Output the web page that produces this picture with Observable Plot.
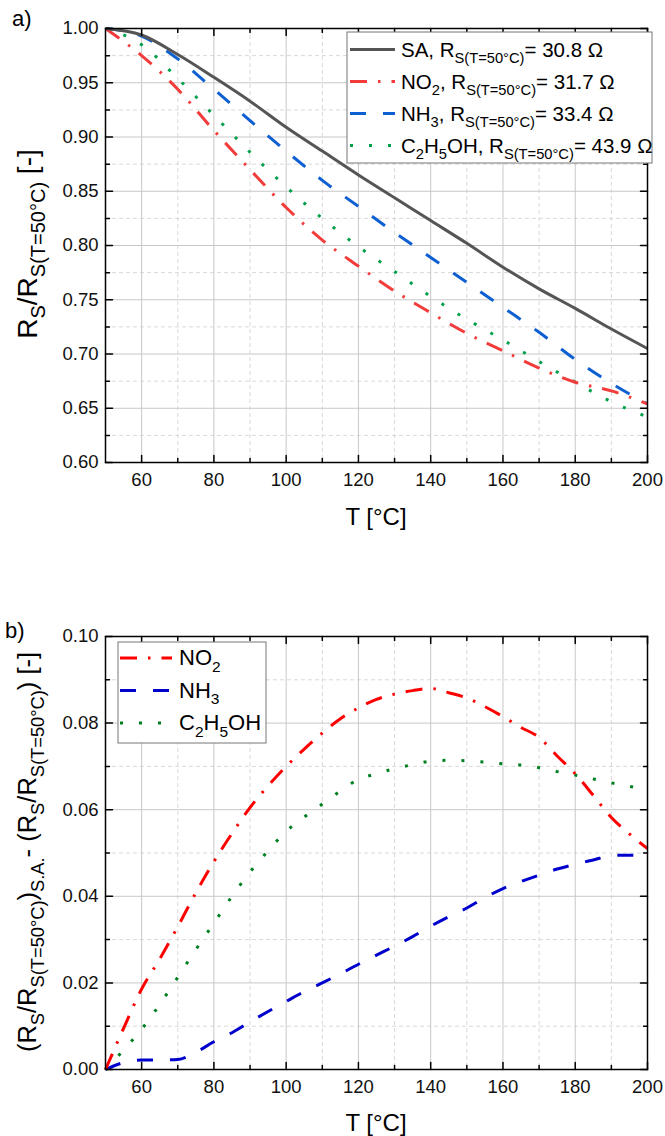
<!DOCTYPE html>
<html><head><meta charset="utf-8">
<script src="https://cdn.jsdelivr.net/npm/d3@7"></script>
<script src="https://cdn.jsdelivr.net/npm/@observablehq/plot@0.6"></script>
<style>
html,body{margin:0;padding:0;background:#fff;}
#chart{width:665px;}
#chart svg{display:block;}
</style></head><body><div id="chart"></div>
<script>
// ---------- data: panel a ----------
const T_a = [50,60,70,80,90,100,110,120,130,140,150,160,170,180,190,200];
const SA_a     = [1.000,0.994,0.976,0.955,0.933,0.909,0.887,0.865,0.844,0.823,0.802,0.780,0.760,0.742,0.723,0.705];
const NO2_a    = [1.000,0.975,0.944,0.906,0.870,0.835,0.805,0.781,0.758,0.738,0.719,0.703,0.687,0.674,0.666,0.654];
const NH3_a    = [1.000,0.993,0.972,0.944,0.915,0.887,0.860,0.836,0.812,0.789,0.766,0.743,0.720,0.695,0.673,0.654];
const C2H5OH_a = [1.000,0.985,0.954,0.920,0.886,0.854,0.825,0.799,0.776,0.753,0.732,0.713,0.693,0.674,0.656,0.642];

// ---------- data: panel b ----------
const T_b = [50,55,60,65,70,75,80,85,90,95,100,105,110,115,120,125,130,135,140,145,150,155,160,165,170,175,180,185,190,195,200];
const NO2_b    = [0,0.0095,0.0186,0.0255,0.033,0.0408,0.048,0.0545,0.0605,0.0655,0.070,0.074,0.0777,0.081,0.0835,0.0855,0.0867,0.0875,0.088,0.087,0.0858,0.0838,0.0815,0.079,0.0767,0.0724,0.0683,0.0633,0.0582,0.0544,0.051];
const NH3_b    = [0,0.0016,0.0022,0.0022,0.0023,0.0040,0.0064,0.0085,0.011,0.0134,0.0157,0.018,0.020,0.0221,0.0243,0.0264,0.0285,0.0307,0.0331,0.0353,0.0373,0.0397,0.0418,0.0434,0.0449,0.0463,0.0474,0.0484,0.0494,0.0495,0.0495];
const C2H5OH_b = [0,0.0045,0.0093,0.015,0.0213,0.0277,0.0338,0.040,0.0456,0.0505,0.055,0.0583,0.0613,0.0643,0.067,0.0683,0.0695,0.0704,0.0712,0.0714,0.0713,0.071,0.0706,0.0703,0.0697,0.0688,0.068,0.0671,0.0662,0.0654,0.0646];

// ---------- ticks ----------
const xMajor = [60,80,100,120,140,160,180,200];
const xMinor = [70,90,110,130,150,170,190];
const yMajor_a = [0.60,0.65,0.70,0.75,0.80,0.85,0.90,0.95,1.00];
const yMinor_a = [0.625,0.675,0.725,0.775,0.825,0.875,0.925,0.975];
const yMajor_b = [0.00,0.02,0.04,0.06,0.08,0.10];
const yMinor_b = [0.01,0.03,0.05,0.07,0.09];

const FONT = '"Liberation Sans", Arial, Helvetica, sans-serif';
const W = 665;
const TICKFONT = 18.5;

const styles_a = {
  SA:     {stroke:"#555555", dash:null},
  NO2:    {stroke:"#f23c3c", dash:"17,11,2.5,11"},
  NH3:    {stroke:"#0e5fd2", dash:"16,17"},
  C2H5OH: {stroke:"#00a04a", dash:"3,16"}
};
const styles_b = {
  NO2:    {stroke:"#ff0000", dash:"17,11,2.5,11"},
  NH3:    {stroke:"#0000cd", dash:"16,17"},
  C2H5OH: {stroke:"#008020", dash:"3,16"}
};

function rows(T, vals) { return T.map((t,i)=>({T:t, v:vals[i]})); }

const tickShape = {draw(ctx, l) { ctx.moveTo(0,0); ctx.lineTo(0,-l); }};
function frameTicks(yMajor, yMinor) {
  const o = {stroke:"#000", strokeWidth:1.5, shape:tickShape, anchor:"start"};
  const L = 7, l = 4;
  return [
    Plot.vector(xMajor, {...o, x:d=>d, frameAnchor:"bottom", rotate:0, length:L}),
    Plot.vector(xMinor, {...o, x:d=>d, frameAnchor:"bottom", rotate:0, length:l}),
    Plot.vector(xMajor, {...o, x:d=>d, frameAnchor:"top", rotate:180, length:L}),
    Plot.vector(xMinor, {...o, x:d=>d, frameAnchor:"top", rotate:180, length:l}),
    Plot.vector(yMajor, {...o, y:d=>d, frameAnchor:"left", rotate:90, length:L}),
    Plot.vector(yMinor, {...o, y:d=>d, frameAnchor:"left", rotate:90, length:l}),
    Plot.vector(yMajor, {...o, y:d=>d, frameAnchor:"right", rotate:-90, length:L}),
    Plot.vector(yMinor, {...o, y:d=>d, frameAnchor:"right", rotate:-90, length:l})
  ];
}
function grids(yMajor, yMinor) {
  return [
    Plot.ruleX(xMinor, {stroke:"#d9d9d9", strokeDasharray:"4,3", strokeWidth:1}),
    Plot.ruleY(yMinor, {stroke:"#d9d9d9", strokeDasharray:"4,3", strokeWidth:1}),
    Plot.ruleX(xMajor, {stroke:"#c8c8c8", strokeWidth:1}),
    Plot.ruleY(yMajor, {stroke:"#c8c8c8", strokeWidth:1})
  ];
}
function series(T, vals, st) {
  return Plot.lineY(rows(T, vals), {x:"T", y:"v", stroke:st.stroke, strokeWidth:3,
    strokeDasharray:st.dash, strokeLinecap:"butt", curve:"monotone-x"});
}
function axes(yMajor) {
  return [
    Plot.axisX(xMajor, {tickSize:0, tickPadding:10, label:null, fontSize:TICKFONT, tickFormat:d=>String(d)}),
    Plot.axisY(yMajor, {tickSize:0, tickPadding:7, label:null, fontSize:TICKFONT, tickFormat:d3.format(".2f")})
  ];
}

function rich(sel, parts, {x, y, size, sub, rotate=0, anchor="start"}) {
  const shift = size*0.3;
  const t = sel.append("text")
    .attr("transform", `translate(${x},${y})` + (rotate ? ` rotate(${rotate})` : ""))
    .attr("text-anchor", anchor).attr("font-size", size).attr("font-family", FONT)
    .attr("fill", "#000").style("white-space", "pre");
  let cur = 0;
  for (const [s, isSub] of parts) {
    const ts = t.append("tspan").text(s);
    if (isSub) ts.attr("font-size", sub);
    if (isSub && !cur) ts.attr("dy", shift);
    if (!isSub && cur) ts.attr("dy", -shift);
    cur = isSub;
  }
  return t;
}
function swatch(g, x1, x2, y, st) {
  g.append("line").attr("x1", x1).attr("x2", x2).attr("y1", y).attr("y2", y)
    .attr("stroke", st.stroke).attr("stroke-width", 3)
    .attr("stroke-dasharray", st.dash).attr("stroke-linecap", "butt");
}

const RS = "S(T=50°C)";

// ---------- panel a ----------
const Ha = 555;
const pa = Plot.plot({
  width: W, height: Ha,
  marginLeft: 105, marginRight: 18, marginTop: 28, marginBottom: 93,
  x: {domain:[50,200]},
  y: {domain:[0.60,1.00]},
  style: {fontFamily: FONT, fontSize: TICKFONT + "px", color: "#111", background: "#fff", overflow: "visible"},
  marks: [
    ...grids(yMajor_a, yMinor_a),
    series(T_a, C2H5OH_a, styles_a.C2H5OH),
    series(T_a, NH3_a, styles_a.NH3),
    series(T_a, NO2_a, styles_a.NO2),
    series(T_a, SA_a, styles_a.SA),
    Plot.frame({stroke:"#000", strokeWidth:1.5}),
    ...frameTicks(yMajor_a, yMinor_a),
    ...axes(yMajor_a)
  ]
});
{
  const g = d3.select(pa).append("g");
  rich(g, [["a)",0]], {x:12, y:26, size:22, sub:15});
  rich(g, [["T [°C]",0]], {x:376, y:525, size:24, sub:17, anchor:"middle"});
  rich(g, [["R",0],["S",1],["/R",0],[RS,1],[" [-]",0]], {x:37, y:244, size:28, sub:20, rotate:-90, anchor:"middle"});
  // legend
  const lg = g.append("g");
  lg.append("rect").attr("x", 347).attr("y", 32).attr("width", 305).attr("height", 131)
    .attr("fill", "#fff").attr("stroke", "#777").attr("stroke-width", 1);
  const ents = [
    [styles_a.SA,     [["SA, R",0],[RS,1],["= 30.8 Ω",0]]],
    [styles_a.NO2,    [["NO",0],["2",1],[", R",0],[RS,1],["= 31.7 Ω",0]]],
    [styles_a.NH3,    [["NH",0],["3",1],[", R",0],[RS,1],["= 33.4 Ω",0]]],
    [styles_a.C2H5OH, [["C",0],["2",1],["H",0],["5",1],["OH, R",0],[RS,1],["= 43.9 Ω",0]]]
  ];
  ents.forEach(([st, parts], i) => {
    const base = 56.5 + i*32;
    swatch(lg, 350, 395, base - 7, st);
    rich(lg, parts, {x:401, y:base, size:20.5, sub:14.7});
  });
}

// ---------- panel b ----------
const Hb = 1136 - Ha;
const pb = Plot.plot({
  width: W, height: Hb,
  marginLeft: 105, marginRight: 18, marginTop: 81, marginBottom: 67,
  x: {domain:[50,200]},
  y: {domain:[0.00,0.10]},
  style: {fontFamily: FONT, fontSize: TICKFONT + "px", color: "#111", background: "#fff", overflow: "visible"},
  marks: [
    ...grids(yMajor_b, yMinor_b),
    series(T_b, C2H5OH_b, styles_b.C2H5OH),
    series(T_b, NH3_b, styles_b.NH3),
    series(T_b, NO2_b, styles_b.NO2),
    Plot.frame({stroke:"#000", strokeWidth:1.5}),
    ...frameTicks(yMajor_b, yMinor_b),
    ...axes(yMajor_b)
  ]
});
{
  const g = d3.select(pb).append("g");
  rich(g, [["b)",0]], {x:5, y:83, size:22, sub:15});
  rich(g, [["T [°C]",0]], {x:376, y:576, size:24, sub:17, anchor:"middle"});
  rich(g, [["(R",0],["S",1],["/R",0],[RS,1],[")",0],["S.A.",1],["- (R",0],["S",1],["/R",0],[RS,1],[") [-]",0]],
    {x:36, y:297, size:25.5, sub:18.3, rotate:-90, anchor:"middle"});
  const lg = g.append("g");
  lg.append("rect").attr("x", 118).attr("y", 87).attr("width", 148).attr("height", 101)
    .attr("fill", "#fff").attr("stroke", "#777").attr("stroke-width", 1);
  const ents = [
    [styles_b.NO2,    [["NO",0],["2",1]]],
    [styles_b.NH3,    [["NH",0],["3",1]]],
    [styles_b.C2H5OH, [["C",0],["2",1],["H",0],["5",1],["OH",0]]]
  ];
  ents.forEach(([st, parts], i) => {
    const base = 110 + i*32.5;
    swatch(lg, 120, 172, base - 7, st);
    rich(lg, parts, {x:179, y:base, size:22, sub:15.5});
  });
}

document.getElementById("chart").append(pa, pb);
</script>
</body></html>
